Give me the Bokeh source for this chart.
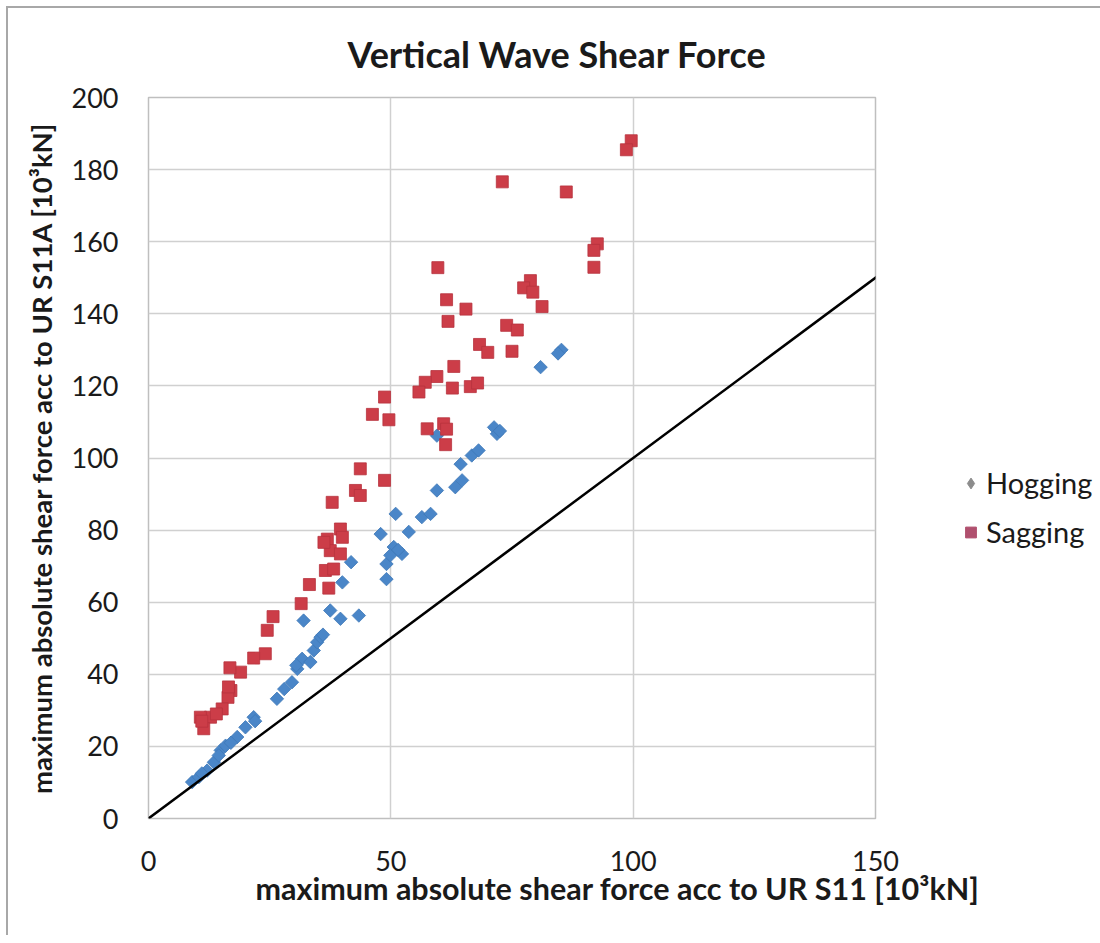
from bokeh.plotting import figure
from bokeh.models import (Range1d, FixedTicker, Legend, LegendItem, Slope, Title,
                          ColumnDataSource)
from bokeh.embed import file_html
from bokeh.resources import INLINE
import math

# ---------------- data ----------------
title_text = "Vertical Wave Shear Force"
x_label = "maximum absolute shear force acc to UR S11 [10³kN]"
y_label = "maximum absolute shear force acc to UR S11A [10³kN]"
x_ticks = [0, 50, 100, 150]
y_ticks = [0, 20, 40, 60, 80, 100, 120, 140, 160, 180, 200]

hog_x = [9.0, 10.4, 12.1, 13.5, 14.9, 15.9, 18.3, 20.0, 21.7, 26.5, 28.0, 29.6, 30.7,
         31.7, 33.4, 34.1, 34.8, 35.5, 32.0, 37.5, 39.6, 43.4, 40.0, 41.8, 49.1, 49.1,
         47.9, 51.0, 50.6, 52.3, 53.7, 49.9, 56.4, 58.2, 59.5, 63.3, 64.7, 64.4, 66.7,
         68.1, 71.3, 71.9, 80.9, 85.2, 59.5, 14.5, 11.0, 22.0, 17.0, 51.5, 36.0, 84.5,
         72.5, 30.5]
hog_y = [10.1, 11.5, 13.3, 15.6, 18.9, 20.2, 22.6, 25.3, 28.1, 33.2, 35.9, 37.8, 41.5,
         44.3, 43.4, 46.6, 48.9, 50.3, 54.9, 57.7, 55.4, 56.3, 65.5, 71.1, 66.4, 70.6,
         78.9, 84.5, 75.3, 73.4, 79.5, 73.0, 83.6, 84.5, 91.0, 91.9, 93.8, 98.3, 100.7,
         102.1, 108.5, 106.7, 125.2, 130.0, 106.2, 17.5, 12.5, 27.0, 21.0, 74.5, 51.0, 129.0,
         107.5, 42.5]

sag_x = [99.6, 98.6, 86.2, 73.0, 92.6, 91.9, 91.9, 59.7, 61.5, 65.5, 61.8, 78.8, 77.4,
         79.3, 81.2, 73.9, 76.1, 68.3, 70.0, 75.0, 63.0, 59.5, 57.1, 55.8, 62.7, 66.4,
         67.9, 48.7, 46.2, 49.6, 57.5, 60.9, 61.5, 61.3, 43.7, 48.7, 42.7, 43.7, 37.9,
         39.6, 36.9, 40.0, 37.5, 39.6, 36.2, 36.5, 38.2, 33.2, 37.2, 31.5, 25.7, 24.5,
         24.1, 21.7, 19.0, 16.8, 17.0, 16.4, 15.2, 12.8, 10.7, 11.4, 16.5, 14.0, 11.0]
sag_y = [188.0, 185.5, 173.8, 176.6, 159.4, 157.6, 152.9, 152.8, 143.9, 141.3, 137.9,
         149.2, 147.2, 146.0, 142.0, 136.8, 135.5, 131.5, 129.3, 129.6, 125.4, 122.6,
         121.0, 118.3, 119.4, 119.8, 120.8, 116.9, 112.1, 110.6, 108.1, 109.5, 108.0,
         103.7, 97.0, 93.8, 91.0, 89.6, 87.7, 80.3, 77.5, 78.0, 74.3, 73.4, 76.6, 68.8,
         69.2, 64.9, 63.9, 59.6, 56.0, 52.2, 45.7, 44.5, 40.6, 41.8, 35.5, 33.6, 30.4,
         28.1, 28.1, 24.9, 36.5, 29.0, 27.0]

series_names = ["Hogging", "Sagging"]

# ---------------- figure ----------------
FONT = "Lato"
TXT = "#1a1a1a"
p = figure(frame_width=727, frame_height=721, output_backend="svg", toolbar_location=None,
           x_range=Range1d(0, 150), y_range=Range1d(0, 200),
           min_border_left=140, min_border_right=217,
           min_border_top=89, min_border_bottom=117)
p.styles = {"margin-left": "6px", "margin-top": "6px",
            "border-left": "2px solid #a8a8a8", "border-top": "2px solid #a8a8a8"}
p.background_fill_color = "white"
p.border_fill_color = "white"
p.outline_line_color = "#bfbfbf"
p.outline_line_width = 1.5

for ax in (p.xaxis, p.yaxis):
    ax.axis_line_color = None
    ax.major_tick_line_color = None
    ax.minor_tick_line_color = None
    ax.major_label_text_font = FONT
    ax.major_label_text_font_size = "27px"
    ax.major_label_text_color = TXT
p.xaxis.ticker = FixedTicker(ticks=x_ticks)
p.yaxis.ticker = FixedTicker(ticks=y_ticks)
p.xaxis.major_label_standoff = 26
p.yaxis.major_label_standoff = 24

p.xgrid.ticker = FixedTicker(ticks=x_ticks)
p.ygrid.ticker = FixedTicker(ticks=y_ticks)
p.xgrid.grid_line_color = "#d0d0d0"
p.ygrid.grid_line_color = "#d0d0d0"
p.xgrid.grid_line_width = 1.5
p.ygrid.grid_line_width = 1.5

# reference line y = x
p.add_layout(Slope(gradient=1, y_intercept=0, line_color="black", line_width=2.5))

hog_src = ColumnDataSource(dict(x=hog_x, y=hog_y))
sag_src = ColumnDataSource(dict(x=sag_x, y=sag_y))

# legend swatches (muted in the reference); drawn underneath the real markers
leg_h = p.scatter("x", "y", source=hog_src, marker="diamond", size=6,
                  fill_color="#8c8c8c", line_color="#8c8c8c")
leg_s = p.scatter("x", "y", source=sag_src, marker="square", size=8,
                  fill_color="#b0506e", line_color="#b0506e")

p.scatter("x", "y", source=hog_src, marker="square", angle=math.pi / 4, size=9.5,
          fill_color="#4a86c8", line_color="#3f78b8", line_width=0.8)
p.scatter("x", "y", source=sag_src, marker="square", size=12,
          fill_color="#cc3d48", line_color="#b8323e", line_width=0.8)

legend = Legend(items=[LegendItem(label=series_names[0], renderers=[leg_h]),
                       LegendItem(label=series_names[1], renderers=[leg_s])],
                location=(82, 269), orientation="vertical",
                label_text_font=FONT, label_text_font_size="29px",
                label_text_color=TXT, glyph_width=27, glyph_height=34,
                label_height=34, label_standoff=2, spacing=14, padding=0, margin=0,
                border_line_color=None, background_fill_alpha=0)
p.add_layout(legend, "right")

# titles
p.add_layout(Title(text=title_text, align="left", offset=199, vertical_align="bottom",
                   standoff=43, text_font=FONT, text_font_size="36px",
                   text_font_style="bold", text_color=TXT), "above")
p.add_layout(Title(text=x_label, align="left", offset=107, vertical_align="top",
                   standoff=-8, text_font=FONT, text_font_size="30.5px",
                   text_font_style="bold", text_color=TXT), "below")
p.add_layout(Title(text=y_label, align="center", vertical_align="bottom",
                   standoff=22, text_font=FONT, text_font_size="27.5px",
                   text_font_style="bold", text_color=TXT), "left")

open("out.html", "w").write(file_html(p, INLINE))
